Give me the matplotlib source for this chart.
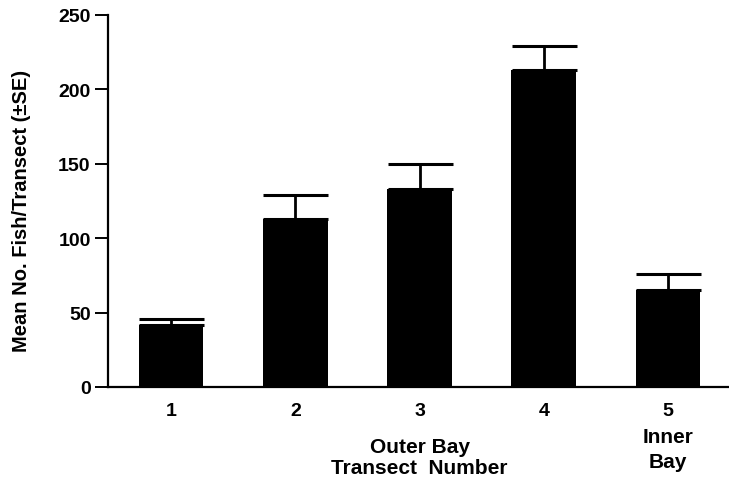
import matplotlib.pyplot as plt

# transect means and standard errors
transects = ["1", "2", "3", "4", "5"]
mean_fish = [42, 113, 133, 213, 65]
se_fish = [4, 16, 17, 16, 11]

plt.rcParams['font.family'] = ['Liberation Sans', 'DejaVu Sans']

fig = plt.figure(figsize=(7.29, 4.81), dpi=100)
ax = fig.add_axes([108 / 729, 93 / 481, 1 - 108 / 729 + 0.01, 372 / 481])

x = list(range(len(transects)))
ax.bar(x, mean_fish, width=0.52, color="black", zorder=2)
ax.errorbar(x, mean_fish, yerr=[[0] * len(se_fish), se_fish], fmt="none",
            ecolor="black", elinewidth=2, capsize=23.4, capthick=2.2, zorder=1)

ax.set_xlim(-0.508, 4.55)
ax.set_ylim(0, 250)
ax.set_yticks([0, 50, 100, 150, 200, 250])
ax.set_xticks(x)
ax.set_xticklabels(transects)

for side in ["top", "right"]:
    ax.spines[side].set_visible(False)
for side in ["left", "bottom"]:
    ax.spines[side].set_linewidth(1.6)

ax.tick_params(axis="y", direction="out", length=9.5, width=1.4, pad=3, labelsize=14)
ax.tick_params(axis="x", length=0, pad=11, labelsize=14)
for lbl in ax.get_xticklabels() + ax.get_yticklabels():
    lbl.set_fontweight("bold")

# y label placed by hand to sit close to the figure edge
fig.text(22 / 729, 1 - 211 / 481, "Mean No. Fish/Transect (\u00b1SE)", rotation=90,
         ha="center", va="center", fontsize=14.5, fontweight="bold")

ax.text(2, -0.134, "Outer Bay\nTransect  Number", transform=ax.get_xaxis_transform(),
        ha="center", va="top", fontsize=15, fontweight="bold", linespacing=1.12)
ax.text(4, -0.108, "Inner\nBay", transform=ax.get_xaxis_transform(),
        ha="center", va="top", fontsize=15, fontweight="bold", linespacing=1.4)

fig.savefig("out.png", dpi=100)
